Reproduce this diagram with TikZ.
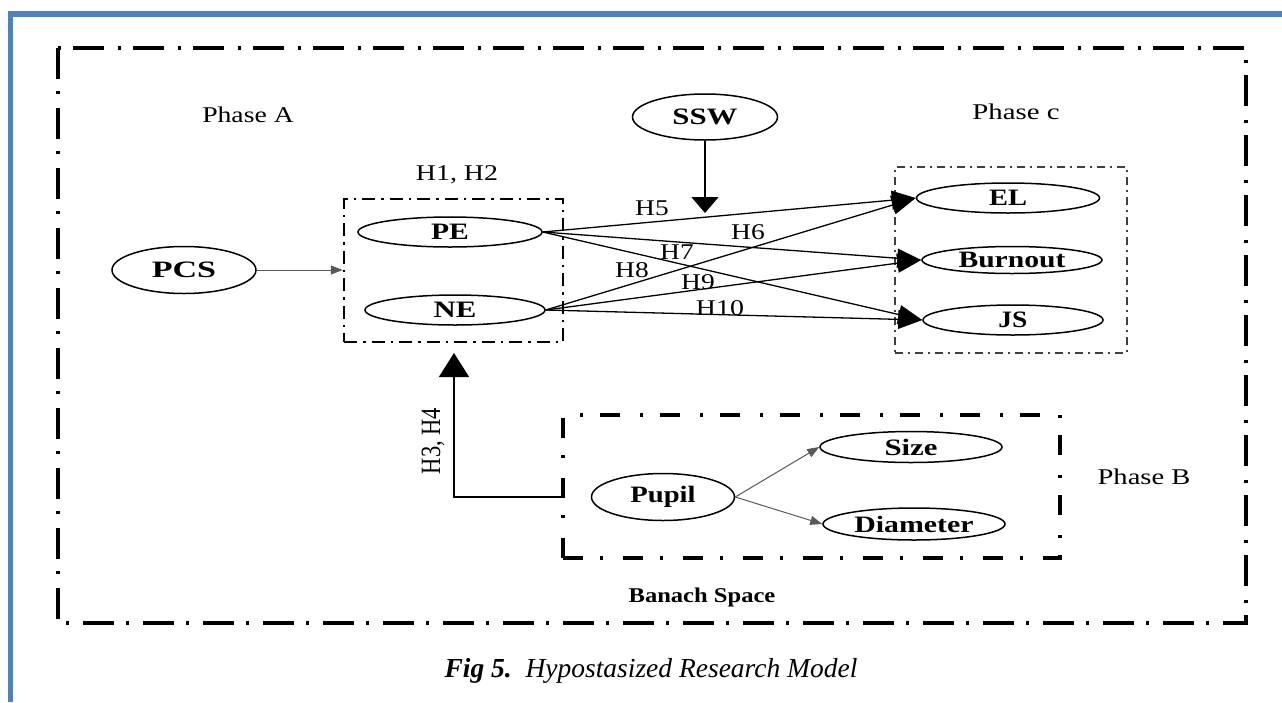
\documentclass[tikz,border=0pt]{standalone}
\usepackage{fontspec}
\setmainfont{Liberation Serif}
\usetikzlibrary{shapes.geometric,arrows.meta}
\definecolor{frameblue}{HTML}{4F81BD}
\newcommand\sx[2]{\scalebox{#1}[1]{#2}}
\begin{document}
\begin{tikzpicture}[x=1pt,y=-1pt,
  ell/.style={ellipse,draw,line width=1.5pt,inner sep=0pt,font=\fontsize{23.5}{25}\selectfont\bfseries},
  txt/.style={inner sep=0pt,font=\fontsize{22.5}{25}\selectfont},
  bigarr/.style={line width=1.3pt,-{Triangle[length=24pt,width=19pt]}},
  thinarr/.style={line width=1pt,draw=black!65,-{Triangle[length=12pt,width=9pt]}},
  outerbox/.style={draw,line width=4pt,dash pattern=on 31pt off 12pt on 3pt off 14pt},
  boxone/.style={draw,line width=2.5pt,inner sep=0pt,dash pattern=on 13pt off 6pt on 2.5pt off 6pt},
  boxc/.style={draw=black!75,line width=2pt,inner sep=0pt,dash pattern=on 8pt off 5pt on 2pt off 5pt},
  boxb/.style={draw,line width=4pt,inner sep=0pt,dash pattern=on 20pt off 17pt on 3pt off 20pt}]
\useasboundingbox (0,0) rectangle (1282,702);
% blue page frame
\fill[frameblue] (8,11) rectangle (1282,16.7);
\fill[frameblue] (8,11) rectangle (13.3,702);
% outer dash-dot frame
\draw[outerbox] (58,48) rectangle (1246,623);
% boxes
\node[boxone,minimum width=219pt,minimum height=143pt] (B1) at (453.5,270.5) {};
\node[boxc,minimum width=232pt,minimum height=186pt] (BC) at (1011,260) {};
\node[boxb,minimum width=497pt,minimum height=143pt] (BB) at (811.5,486.5) {};
% texts
\node[txt] (phA) at (248,115) {\sx{1.23}{Phase A}};
\node[txt] (phC) at (1016,112) {\sx{1.28}{Phase c}};
\node[txt] (phB) at (1144,477) {\sx{1.27}{Phase B}};
\node[txt] (h12) at (457,175) {\sx{1.24}{H1, H2}};
\node[inner sep=0pt,font=\fontsize{21}{23}\selectfont\bfseries] (banach) at (702,597) {\sx{1.17}{Banach Space}};
% ellipses
\node[ell,minimum width=144pt,minimum height=47pt] (PCS) at (184,270) {\sx{1.45}{PCS}};
\node[ell,minimum width=184pt,minimum height=30pt] (PE) at (450,232) {\sx{1.26}{PE}};
\node[ell,minimum width=180pt,minimum height=30pt] (NE) at (455,310) {\sx{1.31}{NE}};
\node[ell,minimum width=145pt,minimum height=46pt] (SSW) at (705,117) {\sx{1.31}{SSW}};
\node[ell,minimum width=183pt,minimum height=30pt] (EL) at (1008,198) {\sx{1.21}{EL}};
\node[ell,minimum width=180pt,minimum height=27pt] (BO) at (1012,260) {\sx{1.26}{Burnout}};
\node[ell,minimum width=180pt,minimum height=30pt] (JS) at (1013,320) {\sx{1.17}{JS}};
\node[ell,minimum width=143pt,minimum height=47pt] (Pupil) at (663,497) {\sx{1.22}{Pupil}};
\node[ell,minimum width=182pt,minimum height=31pt] (Size) at (911,447) {\sx{1.31}{Size}};
\node[ell,minimum width=182pt,minimum height=32pt] (Dia) at (914,524) {\sx{1.27}{Diameter}};
% connectors
\draw[thinarr] (PCS.east) -- (B1.west |- PCS.east);
\coordinate (sswtip) at (705,213);
\draw[line width=1.3pt,-{Triangle[length=16pt,width=27pt]}] (SSW.south) -- (sswtip);
\draw[bigarr] (PE.east) -- (EL.west);
\draw[bigarr] (PE.east) -- (BO.west);
\draw[bigarr] (PE.east) -- (JS.west);
\draw[bigarr] (NE.east) -- (EL.west);
\draw[bigarr] (NE.east) -- (BO.west);
\draw[bigarr] (NE.east) -- (JS.west);
\draw[thinarr] (Pupil.east) -- (Size.west);
\draw[thinarr] (Pupil.east) -- (Dia.west);
\coordinate (h34tip) at (454,353);
\draw[line width=1.5pt,-{Triangle[length=24pt,width=30pt]}] (BB.west |- Pupil.center) -| (h34tip);
% hypothesis labels
\node[txt] (h5) at (652,208) {\sx{1.22}{H5}};
\node[txt] (h6) at (748,232) {\sx{1.22}{H6}};
\node[txt] (h7) at (677,252) {\sx{1.22}{H7}};
\node[txt] (h8) at (632,270) {\sx{1.22}{H8}};
\node[txt] (h9) at (698,282) {\sx{1.22}{H9}};
\node[txt] (h10) at (720,308) {\sx{1.24}{H10}};
\node[txt,rotate=90] (h34) at (433,441) {\scalebox{1}[1.24]{H3, H4}};
% caption
\node[inner sep=0pt,font=\fontsize{27.5}{30}\selectfont\itshape] (cap) at (651,671) {\textbf{Fig 5.}\ \ Hypostasized Research Model};
\end{tikzpicture}
\end{document}
